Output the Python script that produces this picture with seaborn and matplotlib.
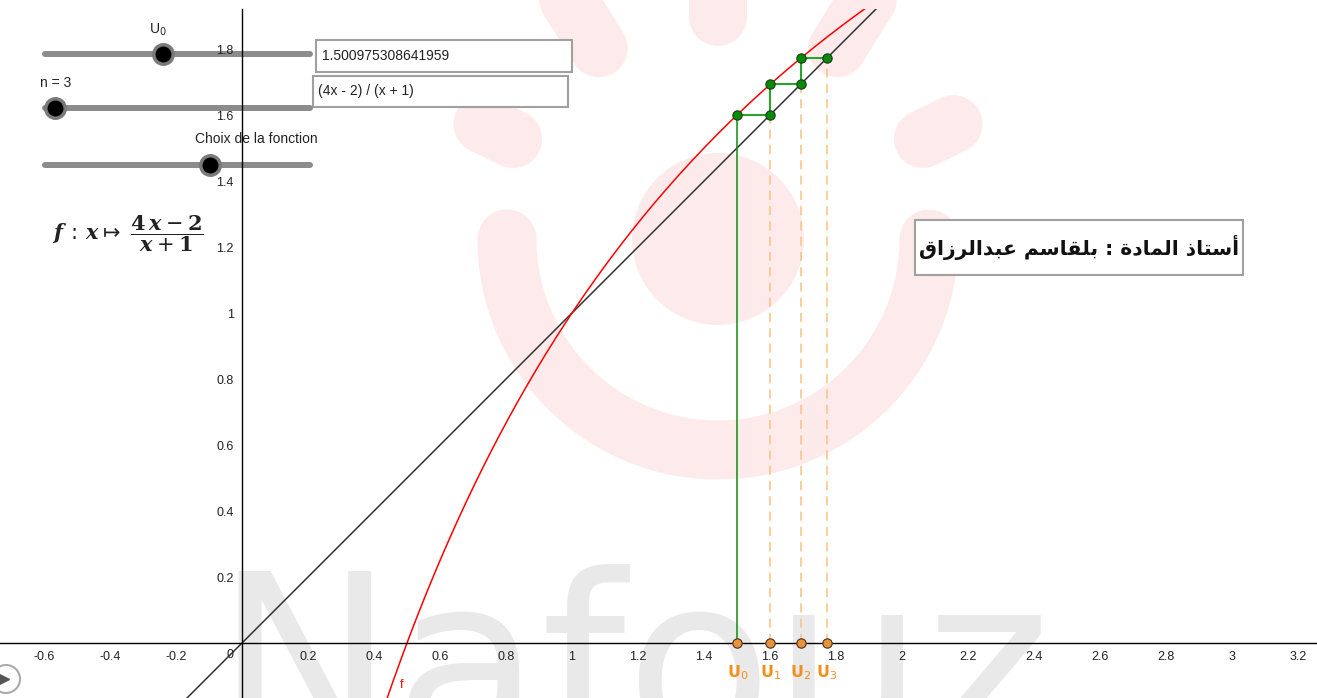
import numpy as np
import matplotlib
matplotlib.use('Agg')
import matplotlib.pyplot as plt
from matplotlib.patches import Rectangle, Circle, Ellipse
import seaborn as sns

# sequence u(n+1) = f(u(n))
u_values = [1.500975308641959, 1.6009, 1.6931, 1.7721]
u_names = ['0', '1', '2', '3']

# f(x) = (4x - 2) / (x + 1)
f_num = [4, -2]
f_den = [1, 1]

x_ticks = [-0.6, -0.4, -0.2, 0.2, 0.4, 0.6, 0.8, 1, 1.2, 1.4, 1.6, 1.8,
           2, 2.2, 2.4, 2.6, 2.8, 3, 3.2]
y_ticks = [0.2, 0.4, 0.6, 0.8, 1, 1.2, 1.4, 1.6, 1.8]

u0_text = '1.500975308641959'
f_text = '(4x - 2) / (x + 1)'
slider_labels = ['U$_0$', 'n = 3', 'Choix de la fonction']
# teacher name, written in presentation forms (visual order) so it renders joined
teacher = ('\uFED5\uFE8D\uFEAF\uFEAE\uFEDF\uFE8D\uFEAA\uFE92\uFECB '
           '\uFEE2\uFEB3\uFE8E\uFED8\uFEE0\uFE91 : '
           '\uFE93\uFEA9\uFE8E\uFEE4\uFEDF\uFE8D '
           '\uFEAB\uFE8E\uFE98\uFEB3\uFE83')

W, H = 1317, 698
PX = 0.72  # points per pixel at dpi 100

sns.set_theme(style='white')
plt.rcParams['font.family'] = ['Liberation Sans', 'DejaVu Sans']
plt.rcParams['mathtext.fontset'] = 'custom'
plt.rcParams['mathtext.rm'] = 'DejaVu Sans'
plt.rcParams['mathtext.it'] = 'DejaVu Serif:italic:bold'
plt.rcParams['mathtext.bf'] = 'DejaVu Serif:bold'
plt.rcParams['mathtext.sf'] = 'DejaVu Sans:bold'

fig = plt.figure(figsize=(W / 100, H / 100), dpi=100)
fig.patch.set_facecolor('white')

# background watermark (pixel coordinates)
bg = fig.add_axes([0, 0, 1, 1], zorder=0)
bg.set_xlim(0, W)
bg.set_ylim(H, 0)
bg.axis('off')
pink = '#fdebeb'
cx, cy = 718, 239
bg.add_patch(Ellipse((cx, cy), 172, 172, fc=pink, ec='none'))
t = np.linspace(0, np.pi, 120)
bg.plot(cx + 211 * np.cos(t), cy + 211 * np.sin(t), color=pink,
        lw=59 * PX, solid_capstyle='round')
for ang, r1, r2 in [(-64, 228, 262), (-32, 225, 330), (0, 222, 300),
                    (32, 225, 330), (64, 228, 262)]:
    a = np.radians(ang)
    bg.plot([cx + r1 * np.sin(a), cx + r2 * np.sin(a)],
            [cy - r1 * np.cos(a), cy - r2 * np.cos(a)],
            color=pink, lw=58 * PX, solid_capstyle='round')
bg.text(214, 747, 'Nafouz', fontsize=173, color='#e9e9e9',
        family='DejaVu Sans', ha='left', va='baseline')

# GeoGebra widgets (pixel coordinates), under the axes lines
ui = fig.add_axes([0, 0, 1, 1], zorder=0.5)
ui.patch.set_alpha(0)
ui.set_xlim(0, W)
ui.set_ylim(H, 0)
ui.axis('off')
for y, kx in zip([54, 108, 165], [163, 55, 210]):
    ui.plot([45, 310], [y, y], color='#8c8c8c', lw=6 * PX,
            solid_capstyle='round')
    ui.plot(kx, y, 'o', ms=14, mfc='black', mec='#7a7a7a', mew=2.5)
for (lx, ly), lab in zip([(149, 30), (40, 83), (195, 139)], slider_labels):
    ui.text(lx, ly, lab, fontsize=10, ha='left', va='center', color='#222222')

ui.add_patch(Rectangle((316, 40), 256, 32, fc='white', ec='#a0a0a0', lw=1.5))
ui.text(322, 56, u0_text, fontsize=10, va='center', color='#222222')
ui.add_patch(Rectangle((313, 76), 255, 31, fc='white', ec='#a0a0a0', lw=1.5))
ui.text(318, 91, f_text, fontsize=10, va='center', color='#222222')

ui.text(52, 234,
        r'$f\,:\,x \mapsto\; \dfrac{\mathbf{4}\,x - \mathbf{2}}{x + \mathbf{1}}$',
        fontsize=15, va='center', color='#222222')

ui.add_patch(Rectangle((915, 220), 328, 55, fc='white', ec='#a0a0a0', lw=1.5))
ui.text(1079, 247, teacher, fontsize=14.6, fontweight='bold',
        family='DejaVu Sans', ha='center', va='center', color='#111111')

ui.add_patch(Circle((6, 679), 14, fill=False, ec='#aaaaaa', lw=1.5))
ui.plot(4, 679, marker='>', color='#555555', ms=7)

# main graphics view
ax = fig.add_axes([0, 0, 1, 689 / 698], zorder=1)
ax.patch.set_alpha(0)
ax.set_xlim(-242 / 330, 1075 / 330)
ax.set_ylim(-55 / 330, 634 / 330)

xl = np.linspace(-0.8, 2.2, 50)
sns.lineplot(x=xl, y=xl, color='#333333', lw=1.1, ax=ax)

xc = np.linspace(0.35, 2.1, 500)
yc = (f_num[0] * xc + f_num[1]) / (f_den[0] * xc + f_den[1])
sns.lineplot(x=xc, y=yc, color='#ff0000', lw=1.1, ax=ax)

# cobweb
path_x, path_y = [u_values[0]], [0]
for a, b in zip(u_values[:-1], u_values[1:]):
    path_x += [a, b]
    path_y += [b, b]
ax.plot(path_x[:2], path_y[:2], color='#0a8f0a', lw=1.1)
ax.plot(path_x[1:], path_y[1:], color='#2aa52a', lw=1.5)
ax.vlines(u_values[1:], 0, u_values[1:], colors='#ffc080', lw=1.1,
          linestyles=(0, (6, 4)))
sns.scatterplot(x=path_x[1:], y=path_y[1:], color='#0a8a0a',
                edgecolor='#153d15', linewidth=0.8, s=45, zorder=5, ax=ax)
sns.scatterplot(x=u_values, y=[0] * len(u_values), color='#e8923a',
                edgecolor='#4a3020', linewidth=0.8, s=45, zorder=5, ax=ax)
for u, n in zip(u_values, u_names):
    ax.text(u, -0.09, r'$\mathsf{U}_{\mathrm{%s}}$' % n, color='#f0901e',
            ha='center', va='center', fontsize=11.5)
ax.text(0.478, -0.136, 'f', color='#ff0000', fontsize=9)

for s in ['top', 'right']:
    ax.spines[s].set_visible(False)
for s in ['left', 'bottom']:
    ax.spines[s].set_position(('data', 0))
    ax.spines[s].set_color('black')
    ax.spines[s].set_linewidth(1.0)
ax.set_xticks(x_ticks)
ax.set_xticklabels([f'{v:g}' for v in x_ticks])
ax.set_yticks(y_ticks)
ax.set_yticklabels([f'{v:g}' for v in y_ticks])
ax.tick_params(direction='out', length=3, width=0.8, labelsize=9,
               labelcolor='#222222', pad=3, color='black')
ax.text(-0.036, -0.036, '0', ha='center', va='center', fontsize=9,
        color='#222222')
ax.set_xlabel('')
ax.set_ylabel('')

fig.savefig('out.png', dpi=100)
